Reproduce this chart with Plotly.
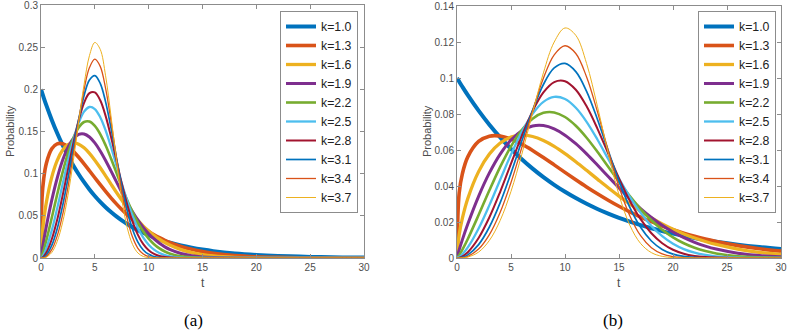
import plotly.graph_objects as go

# ---------------- data ----------------
k_labels = ["k=1.0", "k=1.3", "k=1.6", "k=1.9", "k=2.2", "k=2.5", "k=2.8", "k=3.1", "k=3.4", "k=3.7"]

# panel (a)
t_a = [0, 0.1, 0.25, 0.5, 1, 1.5, 2, 2.5, 3, 3.5, 4, 4.5, 5, 5.5, 6, 6.5, 7, 7.5, 8, 8.5, 9, 9.5,
       10, 10.5, 11, 11.5, 12, 13, 14, 15, 16, 18, 20, 22, 24, 26, 28, 30]
a_k10 = [0.2, 0.19604, 0.19025, 0.18097, 0.16375, 0.14816, 0.13406, 0.12131, 0.10976, 0.09932, 0.08987,
         0.08131, 0.07358, 0.06657, 0.06024, 0.05451, 0.04932, 0.04463, 0.04038, 0.03654, 0.03306, 0.02991,
         0.02707, 0.02449, 0.02216, 0.02005, 0.01814, 0.01485, 0.01216, 0.00996, 0.00815, 0.00546, 0.00366,
         0.00246, 0.00165, 0.00110, 0.00074, 0.00050]
a_k13 = [0, 0.07212, 0.09375, 0.11235, 0.12947, 0.13535, 0.13546, 0.13207, 0.12647, 0.11949, 0.11170,
         0.10348, 0.09516, 0.08693, 0.07896, 0.07135, 0.06417, 0.05746, 0.05125, 0.04554, 0.04033, 0.03560,
         0.03132, 0.02748, 0.02405, 0.02098, 0.01827, 0.01374, 0.01024, 0.00757, 0.00555, 0.00292, 0.00150,
         0.00075, 0.00037, 0.00018, 0.00008, 0.00004]
a_k16 = [0, 0.02566, 0.04423, 0.06609, 0.09598, 0.11547, 0.12775, 0.13440, 0.13650, 0.13498, 0.13060,
         0.12409, 0.11604, 0.10699, 0.09741, 0.08765, 0.07801, 0.06874, 0.06000, 0.05190, 0.04450, 0.03785,
         0.03194, 0.02675, 0.02223, 0.01835, 0.01504, 0.00991, 0.00636, 0.00399, 0.00244, 0.00085, 0.00028,
         0.00008, 0.00002, 0.00001, 0, 0]
a_k19 = [0, 0.00896, 0.02039, 0.03776, 0.06856, 0.09456, 0.11550, 0.13113, 0.14144, 0.14661, 0.14709,
         0.14348, 0.13650, 0.12696, 0.11563, 0.10326, 0.09051, 0.07794, 0.06597, 0.05493, 0.04501, 0.03630,
         0.02884, 0.02257, 0.01741, 0.01323, 0.00991, 0.00534, 0.00272, 0.00131, 0.00060, 0.00011, 0.00002,
         0, 0, 0, 0, 0]
a_k22 = [0, 0.00308, 0.00924, 0.02115, 0.04775, 0.07523, 0.10129, 0.12410, 0.14227, 0.15482, 0.16129,
         0.16174, 0.15665, 0.14691, 0.13363, 0.11804, 0.10134, 0.08463, 0.06877, 0.05440, 0.04191, 0.03144,
         0.02297, 0.01635, 0.01134, 0.00766, 0.00504, 0.00202, 0.00073, 0.00024, 0.00007, 0, 0,
         0, 0, 0, 0, 0]
a_k25 = [0, 0.00105, 0.00414, 0.01170, 0.03273, 0.05874, 0.08702, 0.11498, 0.14013, 0.16022, 0.17353,
         0.17906, 0.17663, 0.16691, 0.15131, 0.13166, 0.11001, 0.08826, 0.06799, 0.05026, 0.03565, 0.02425,
         0.01581, 0.00987, 0.00590, 0.00337, 0.00184, 0.00048, 0.00010, 0.00002, 0, 0, 0,
         0, 0, 0, 0, 0]
a_k28 = [0, 0.00035, 0.00184, 0.00641, 0.02217, 0.04522, 0.07360, 0.10480, 0.13579, 0.16323, 0.18398,
         0.19551, 0.19648, 0.18698, 0.16854, 0.14384, 0.11610, 0.08853, 0.06369, 0.04314, 0.02747, 0.01641,
         0.00917, 0.00479, 0.00233, 0.00106, 0.00045, 0.00006, 0.00001, 0, 0, 0, 0,
         0, 0, 0, 0, 0]
a_k31 = [0, 0.00012, 0.00081, 0.00349, 0.01488, 0.03445, 0.06151, 0.09431, 0.12989, 0.16424, 0.19278,
         0.21116, 0.21627, 0.20710, 0.18517, 0.15421, 0.11927, 0.08537, 0.05633, 0.03412, 0.01889, 0.00951,
         0.00434, 0.00178, 0.00066, 0.00022, 0.00006, 0, 0, 0, 0, 0, 0,
         0, 0, 0, 0, 0]
a_k34 = [0, 0.00004, 0.00036, 0.00188, 0.00990, 0.02597, 0.05082, 0.08383, 0.12271, 0.16328, 0.19978,
         0.22580, 0.23586, 0.22724, 0.20114, 0.16273, 0.11958, 0.07926, 0.04703, 0.02478, 0.01149, 0.00465,
         0.00163, 0.00049, 0.00012, 0.00003, 0, 0, 0, 0, 0, 0, 0,
         0, 0, 0, 0, 0]
a_k37 = [0, 0.00001, 0.00016, 0.00101, 0.00657, 0.01951, 0.04177, 0.07406, 0.11516, 0.16124, 0.20569,
         0.23995, 0.25559, 0.24740, 0.21605, 0.16863, 0.11638, 0.07016, 0.03646, 0.01610, 0.00595, 0.00181,
         0.00045, 0.00009, 0.00001, 0, 0, 0, 0, 0, 0, 0, 0,
         0, 0, 0, 0, 0]

# panel (b)
t_b = [0, 0.2, 0.5, 1, 2, 3, 4, 5, 6, 7, 8, 9, 10, 11, 12, 13, 14, 15, 16, 17, 18, 19,
       20, 21, 22, 23, 24, 26, 28, 30]
b_k10 = [0.1, 0.09802, 0.09512, 0.09049, 0.08187, 0.07408, 0.06703, 0.06065, 0.05488, 0.04966, 0.04493,
         0.04066, 0.03679, 0.03329, 0.03012, 0.02725, 0.02466, 0.02231, 0.02019, 0.01827, 0.01653, 0.01496,
         0.01353, 0.01225, 0.01108, 0.01003, 0.00907, 0.00743, 0.00608, 0.00498]
b_k13 = [0, 0.03606, 0.04688, 0.05618, 0.06474, 0.06768, 0.06773, 0.06604, 0.06324, 0.05975, 0.05585,
         0.05174, 0.04758, 0.04347, 0.03948, 0.03568, 0.03209, 0.02873, 0.02563, 0.02277, 0.02017, 0.01780,
         0.01566, 0.01374, 0.01203, 0.01049, 0.00914, 0.00687, 0.00512, 0.00379]
b_k16 = [0, 0.01283, 0.02212, 0.03305, 0.04799, 0.05774, 0.06388, 0.06720, 0.06825, 0.06749, 0.06530,
         0.06205, 0.05802, 0.05350, 0.04871, 0.04383, 0.03901, 0.03437, 0.03000, 0.02595, 0.02225, 0.01893,
         0.01597, 0.01338, 0.01112, 0.00918, 0.00752, 0.00496, 0.00318, 0.00200]
b_k19 = [0, 0.00448, 0.01020, 0.01888, 0.03428, 0.04728, 0.05775, 0.06557, 0.07072, 0.07331, 0.07355,
         0.07174, 0.06825, 0.06348, 0.05782, 0.05163, 0.04526, 0.03897, 0.03299, 0.02747, 0.02251, 0.01815,
         0.01442, 0.01129, 0.00871, 0.00662, 0.00496, 0.00267, 0.00136, 0.00066]
b_k22 = [0, 0.00154, 0.00462, 0.01058, 0.02388, 0.03762, 0.05065, 0.06205, 0.07114, 0.07741, 0.08065,
         0.08087, 0.07833, 0.07346, 0.06682, 0.05902, 0.05067, 0.04232, 0.03439, 0.02720, 0.02096, 0.01572,
         0.01149, 0.00818, 0.00567, 0.00383, 0.00252, 0.00101, 0.00037, 0.00012]
b_k25 = [0, 0.00053, 0.00207, 0.00585, 0.01637, 0.02937, 0.04351, 0.05749, 0.07007, 0.08011, 0.08677,
         0.08953, 0.08832, 0.08346, 0.07566, 0.06583, 0.05501, 0.04413, 0.03400, 0.02513, 0.01783, 0.01213,
         0.00791, 0.00494, 0.00295, 0.00169, 0.00092, 0.00024, 0.00005, 0.00001]
b_k28 = [0, 0.00018, 0.00092, 0.00321, 0.01109, 0.02261, 0.03680, 0.05240, 0.06790, 0.08162, 0.09199,
         0.09776, 0.09824, 0.09349, 0.08427, 0.07192, 0.05805, 0.04427, 0.03185, 0.02157, 0.01374, 0.00821,
         0.00459, 0.00240, 0.00117, 0.00053, 0.00023, 0.00003, 0.00001, 0]
b_k31 = [0, 0.00006, 0.00041, 0.00175, 0.00744, 0.01723, 0.03076, 0.04716, 0.06495, 0.08212, 0.09639,
         0.10558, 0.10814, 0.10355, 0.09259, 0.07711, 0.05964, 0.04269, 0.02817, 0.01706, 0.00945, 0.00476,
         0.00217, 0.00089, 0.00033, 0.00011, 0.00003, 0, 0, 0]
b_k34 = [0, 0.00002, 0.00018, 0.00094, 0.00495, 0.01299, 0.02541, 0.04192, 0.06136, 0.08164, 0.09989,
         0.11290, 0.11793, 0.11362, 0.10057, 0.08137, 0.05979, 0.03963, 0.02352, 0.01239, 0.00575, 0.00233,
         0.00082, 0.00025, 0.00006, 0.00002, 0, 0, 0, 0]
b_k37 = [0, 0.00001, 0.00008, 0.00051, 0.00329, 0.00976, 0.02089, 0.03703, 0.05758, 0.08062, 0.10285,
         0.11998, 0.12780, 0.12370, 0.10803, 0.08432, 0.05819, 0.03508, 0.01823, 0.00805, 0.00298, 0.00091,
         0.00023, 0.00005, 0.00001, 0, 0, 0, 0, 0]

x_ticks = [0, 5, 10, 15, 20, 25, 30]
y_ticks_a = [0, 0.05, 0.1, 0.15, 0.2, 0.25, 0.3]
y_ticks_b = [0, 0.02, 0.04, 0.06, 0.08, 0.1, 0.12, 0.14]

# ---------------- style ----------------
colors = ["#0072BD", "#D95319", "#EDB120", "#7E2F8E", "#77AC30",
          "#4DBEEE", "#A2142F", "#0072BD", "#D95319", "#EDB120"]
widths = [4.0, 3.6, 3.3, 3.0, 2.6, 2.3, 2.0, 1.7, 1.3, 1.0]
series_a = [a_k10, a_k13, a_k16, a_k19, a_k22, a_k25, a_k28, a_k31, a_k34, a_k37]
series_b = [b_k10, b_k13, b_k16, b_k19, b_k22, b_k25, b_k28, b_k31, b_k34, b_k37]

W, H = 791, 331
AX_COLOR = "#8c8c8c"
TXT_COLOR = "#4d4d4d"
FONT = "Liberation Sans, Arial, sans-serif"
SERIF = "Liberation Serif, Times New Roman, serif"

fig = go.Figure()
for i, name in enumerate(k_labels):
    fig.add_trace(go.Scatter(x=t_a, y=series_a[i], name=name, mode="lines",
                             line=dict(color=colors[i], width=widths[i], shape="spline", smoothing=1),
                             xaxis="x", yaxis="y", legend="legend"))
for i, name in enumerate(k_labels):
    fig.add_trace(go.Scatter(x=t_b, y=series_b[i], name=name, mode="lines",
                             line=dict(color=colors[i], width=widths[i], shape="spline", smoothing=1),
                             xaxis="x2", yaxis="y2", legend="legend2"))


def px_x(p):
    return p / W


def px_y(p):
    return (H - p) / H


axis_common = dict(showline=True, linecolor=AX_COLOR, linewidth=1, mirror="allticks",
                   ticks="inside", ticklen=4, tickcolor=AX_COLOR, showgrid=False, zeroline=False,
                   automargin=False, ticklabeloverflow="allow",
                   tickfont=dict(family=FONT, size=10, color=TXT_COLOR))

legend_common = dict(font=dict(family=FONT, size=12.3, color="#222222"), bgcolor="white",
                     bordercolor=AX_COLOR, borderwidth=1, xanchor="right", yanchor="top",
                     tracegroupgap=0, itemwidth=30)


def label(text, x, y, size, family=FONT, color=TXT_COLOR, angle=0):
    return dict(text=text, x=px_x(x), y=px_y(y), xref="paper", yref="paper", showarrow=False,
                xanchor="center", yanchor="middle", textangle=angle,
                font=dict(family=family, size=size, color=color))


fig.update_layout(
    width=W, height=H, margin=dict(l=0, r=0, t=0, b=0, autoexpand=False),
    paper_bgcolor="white", plot_bgcolor="white",
    xaxis=dict(domain=[px_x(41), px_x(364)], range=[0, 30], tickvals=x_ticks, anchor="y", **axis_common),
    yaxis=dict(domain=[px_y(258), px_y(5)], range=[0, 0.30001], tickvals=y_ticks_a, anchor="x",
               **axis_common),
    xaxis2=dict(domain=[px_x(457), px_x(781)], range=[0, 30], tickvals=x_ticks, anchor="y2", **axis_common),
    yaxis2=dict(domain=[px_y(258), px_y(6)], range=[0, 0.140005], tickvals=y_ticks_b, anchor="x2",
                **axis_common),
    legend=dict(x=px_x(358), y=px_y(11), **legend_common),
    legend2=dict(x=px_x(776), y=px_y(11), **legend_common),
    annotations=[
        label("t", 202.5, 283, 12),
        label("t", 619, 283, 12),
        label("Probability", 10, 131, 11, angle=-90),
        label("Probability", 427, 131, 11, angle=-90),
        label("(a)", 193, 320, 17, family=SERIF, color="black"),
        label("(b)", 613, 320, 17, family=SERIF, color="black"),
    ],
)

fig.write_html("out.html", config={"displayModeBar": False},
               post_script="document.body.style.margin='0px';")
